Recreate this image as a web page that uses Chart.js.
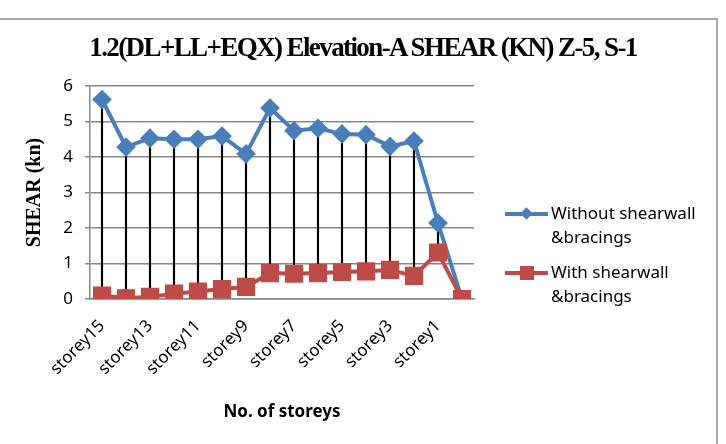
<!DOCTYPE html>
<html>
<head>
<meta charset="utf-8">
<script src="https://cdn.jsdelivr.net/npm/chart.js@4"></script>
<style>
    body { margin: 0; background: #fff; }
    #wrap { position: relative; width: 726px; height: 444px; overflow: hidden; }
    #frame { position: absolute; left: -3px; top: 18px; width: 721px; height: 440px; border: 2px solid #a6a6a6; box-sizing: border-box; }
    #title { position: absolute; left: 0; top: 31px; width: 726px; text-align: center;
        font: bold 27px 'Liberation Serif', serif; letter-spacing: -1.6px; line-height: 32px; color: #000; }
    .leg { position: absolute; left: 505px; font: 17px 'Noto Sans', sans-serif; line-height: 24px; color: #000; }
    .leg .line { position: absolute; left: 0; top: 10px; width: 43px; height: 4px; }
    .leg .mark { position: absolute; }
    .leg .txt { position: absolute; left: 46px; top: -1px; white-space: nowrap; }
</style>
</head>
<body>
<div id="wrap">
    <canvas id="shearChart" width="726" height="444"></canvas>
    <div id="frame"></div>
    <div id="title">1.2(DL+LL+EQX) Elevation-A SHEAR (KN) Z-5, S-1</div>
    <div class="leg" style="top:202px">
        <div class="line" style="background:#4a7ebb"></div>
        <div class="mark" style="left:17px;top:7px;width:9px;height:9px;background:#4a7ebb;transform:rotate(45deg)"></div>
        <div class="txt">Without shearwall<br>&amp;bracings</div>
    </div>
    <div class="leg" style="top:261px">
        <div class="line" style="background:#be4b48"></div>
        <div class="mark" style="left:15px;top:5px;width:14px;height:14px;background:#be4b48"></div>
        <div class="txt">With shearwall<br>&amp;bracings</div>
    </div>
</div>

<script>
// storeys from top to base, last one has no label shown
const storeys = ['storey15', 'storey14', 'storey13', 'storey12', 'storey11', 'storey10', 'storey9', 'storey8',
    'storey7', 'storey6', 'storey5', 'storey4', 'storey3', 'storey2', 'storey1', 'base'];

// shear (kn)
const withoutShearwall = [5.62, 4.28, 4.53, 4.50, 4.50, 4.59, 4.09, 5.38, 4.74, 4.81, 4.65, 4.63, 4.30, 4.45, 2.14, 0];
const withShearwall = [0.10, 0.02, 0.06, 0.15, 0.21, 0.28, 0.34, 0.73, 0.71, 0.73, 0.76, 0.78, 0.82, 0.65, 1.31, 0];

const yTicks = [0, 1, 2, 3, 4, 5, 6];

const gridGrey = '#878787';

// high-low lines between the two series
const hiLo = withoutShearwall.map((v, i) => [withShearwall[i], v]);

const ctx = document.getElementById('shearChart').getContext('2d');
new Chart(ctx, {
    data: {
        labels: storeys,
        datasets: [
            {
                type: 'line',
                label: 'Without shearwall &bracings',
                data: withoutShearwall,
                borderColor: '#4a7ebb',
                backgroundColor: '#4a7ebb',
                borderWidth: 4,
                pointStyle: 'rectRot',
                pointRadius: 7,
                pointHoverRadius: 7,
                order: 2
            },
            {
                type: 'line',
                label: 'With shearwall &bracings',
                data: withShearwall,
                borderColor: '#be4b48',
                backgroundColor: '#be4b48',
                borderWidth: 4,
                pointStyle: 'rect',
                pointRadius: 10,
                pointHoverRadius: 10,
                order: 1
            },
            {
                type: 'bar',
                label: 'hilo',
                data: hiLo,
                backgroundColor: '#000',
                barThickness: 1.5,
                order: 3
            }
        ]
    },
    options: {
        responsive: false,
        animation: false,
        layout: { padding: { left: 19, top: 86, right: 252, bottom: 18 } },
        plugins: {
            legend: { display: false },
            title: { display: false },
            tooltip: { enabled: false }
        },
        scales: {
            x: {
                type: 'category',
                offset: true,
                grid: { display: false },
                border: { display: true, color: gridGrey, width: 1.5 },
                ticks: {
                    autoSkip: false,
                    maxRotation: 45,
                    minRotation: 45,
                    padding: 9,
                    color: '#000',
                    font: { family: 'Noto Sans', size: 17 },
                    callback: function (v, i) { return i % 2 === 0 ? storeys[i] : ''; }
                },
                title: {
                    display: true,
                    text: 'No. of storeys',
                    color: '#000',
                    font: { family: 'Noto Sans', size: 17, weight: 'bold' }
                },
                afterFit: function (scale) { scale.height = 127; }
            },
            y: {
                min: yTicks[0],
                max: yTicks[yTicks.length - 1],
                grid: { color: gridGrey, lineWidth: 1.5, tickLength: 5 },
                border: { display: true, color: gridGrey, width: 1.5 },
                ticks: {
                    stepSize: 1,
                    padding: 12,
                    color: '#000',
                    font: { family: 'Noto Sans', size: 17 }
                },
                title: {
                    display: true,
                    text: 'SHEAR (kn)',
                    color: '#000',
                    font: { family: 'Liberation Serif', size: 20, weight: 'bold' }
                },
                afterFit: function (scale) { scale.width = 71; }
            }
        }
    }
});
</script>
</body>
</html>
